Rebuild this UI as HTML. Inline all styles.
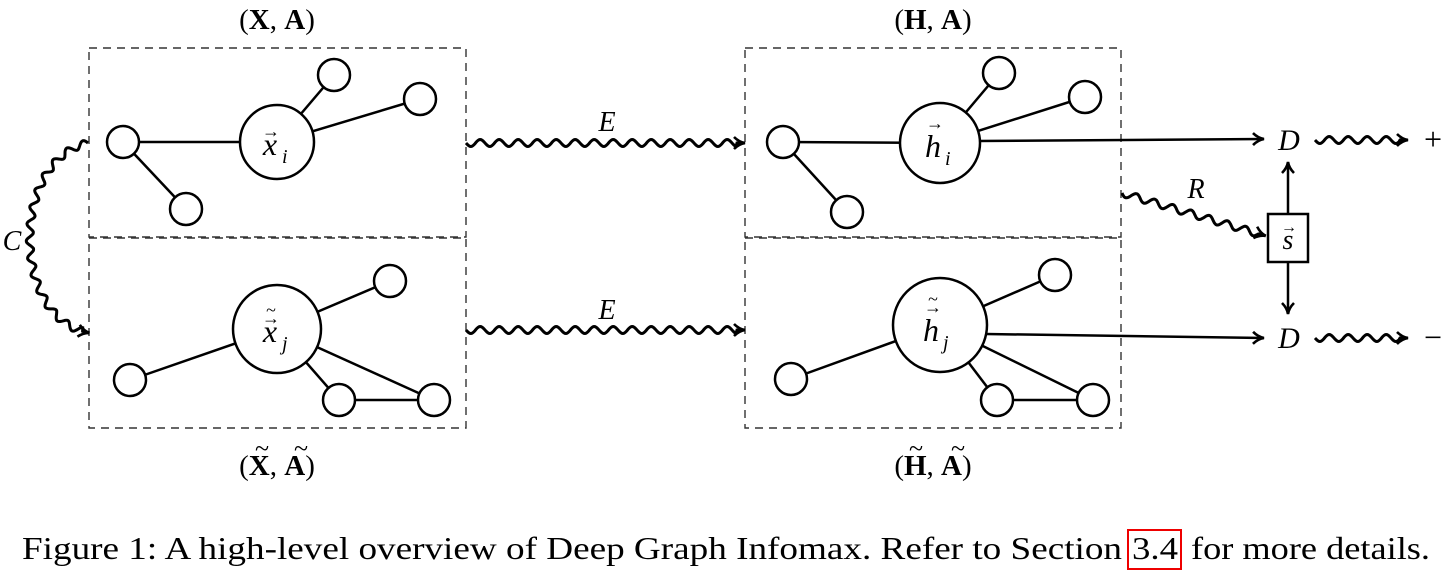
<!DOCTYPE html>
<html><head><meta charset="utf-8"><style>
html,body{margin:0;padding:0;background:#fff;width:1452px;height:579px;overflow:hidden}
svg{position:absolute;left:0;top:0}
text{font-family:"Liberation Serif",serif;fill:#000}
.m{font-style:italic}
</style></head><body>
<svg id="s" width="1452" height="579" viewBox="0 0 1452 579" xmlns="http://www.w3.org/2000/svg">
<defs>
<marker id="ar" viewBox="0 0 16 16" refX="13" refY="8" markerWidth="16" markerHeight="16" markerUnits="userSpaceOnUse" orient="auto">
<path d="M2,2 Q7,7 13,8 Q7,9 2,14" fill="none" stroke="#000" stroke-width="2.6"/>
</marker>
</defs>
<g fill="none" stroke="#333" stroke-width="1.4" stroke-dasharray="8,6">
<rect x="89" y="48" width="377" height="189"/>
<rect x="89" y="238" width="377" height="190"/>
<rect x="745" y="48" width="376" height="189"/>
<rect x="745" y="238" width="376" height="190"/>
</g>
<g stroke="#000" stroke-width="2.5" fill="none">
<line x1="123" y1="142" x2="277" y2="142"/><line x1="123" y1="142" x2="186" y2="209"/>
<line x1="277" y1="142" x2="334" y2="75"/><line x1="277" y1="142" x2="420" y2="99"/>
<line x1="277" y1="329" x2="130" y2="380"/><line x1="277" y1="329" x2="390" y2="281"/>
<line x1="277" y1="329" x2="339" y2="400"/><line x1="277" y1="329" x2="434" y2="400"/>
<line x1="339" y1="400" x2="434" y2="400"/>
<line x1="783" y1="142" x2="940" y2="143"/><line x1="783" y1="142" x2="847" y2="212"/>
<line x1="940" y1="143" x2="999" y2="73"/><line x1="940" y1="143" x2="1085" y2="97"/>
<line x1="940" y1="325" x2="791" y2="379"/><line x1="940" y1="325" x2="1055" y2="275"/>
<line x1="940" y1="325" x2="997" y2="400"/><line x1="940" y1="325" x2="1093" y2="400"/>
<line x1="997" y1="400" x2="1093" y2="400"/>
<line x1="978" y1="141" x2="1264" y2="139" marker-end="url(#ar)"/>
<line x1="986" y1="334" x2="1264" y2="338" marker-end="url(#ar)"/>
<line x1="1288" y1="214" x2="1288" y2="162" marker-end="url(#ar)"/>
<line x1="1288" y1="262" x2="1288" y2="314" marker-end="url(#ar)"/>
</g>
<g stroke="#000" stroke-width="2.5" fill="#fff">
<circle cx="277" cy="142" r="37"/><circle cx="123" cy="142" r="16"/><circle cx="186" cy="209" r="16"/>
<circle cx="334" cy="75" r="16"/><circle cx="420" cy="99" r="16"/>
<circle cx="277" cy="329" r="44"/><circle cx="130" cy="380" r="16"/><circle cx="390" cy="281" r="16"/>
<circle cx="339" cy="400" r="16"/><circle cx="434" cy="400" r="16"/>
<circle cx="940" cy="143" r="40"/><circle cx="783" cy="142" r="16"/><circle cx="847" cy="212" r="16"/>
<circle cx="999" cy="73" r="16"/><circle cx="1085" cy="97" r="16"/>
<circle cx="940" cy="325" r="47"/><circle cx="791" cy="379" r="16"/><circle cx="1055" cy="275" r="16"/>
<circle cx="997" cy="400" r="16"/><circle cx="1093" cy="400" r="16"/>
<rect x="1268" y="214" width="40" height="48"/>
</g>
<g id="w" stroke="#000" stroke-width="3" fill="none"></g>
<g font-size="29">
<text x="277" y="29" text-anchor="middle">(<tspan font-weight="bold">X</tspan>, <tspan font-weight="bold">A</tspan>)</text>
<text x="933" y="29" text-anchor="middle">(<tspan font-weight="bold">H</tspan>, <tspan font-weight="bold">A</tspan>)</text>
<text x="277" y="475" text-anchor="middle">(<tspan font-weight="bold">X</tspan>, <tspan font-weight="bold">A</tspan>)</text>
<text x="933" y="475" text-anchor="middle">(<tspan font-weight="bold">H</tspan>, <tspan font-weight="bold">A</tspan>)</text>
<text x="262" y="457" text-anchor="middle" font-size="26">~</text><text x="301" y="457" text-anchor="middle" font-size="26">~</text>
<text x="916" y="457" text-anchor="middle" font-size="26">~</text><text x="958" y="457" text-anchor="middle" font-size="26">~</text>
<text class="m" x="270" y="155" text-anchor="middle" font-size="32">x</text><text class="m" x="282" y="163" font-size="20">i</text>
<text x="271" y="137" text-anchor="middle" font-size="18">→</text>
<text class="m" x="270" y="342" text-anchor="middle" font-size="32">x</text><text class="m" x="282" y="350" font-size="20">j</text>
<text x="271" y="324" text-anchor="middle" font-size="18">→</text><text x="271" y="316" text-anchor="middle" font-size="18">~</text>
<text class="m" x="933" y="157" text-anchor="middle" font-size="32">h</text><text class="m" x="945" y="165" font-size="20">i</text>
<text x="935" y="129" text-anchor="middle" font-size="18">→</text>
<text class="m" x="931" y="341" text-anchor="middle" font-size="32">h</text><text class="m" x="943" y="349" font-size="20">j</text>
<text x="933" y="313" text-anchor="middle" font-size="18">→</text><text x="933" y="305" text-anchor="middle" font-size="18">~</text>
<text class="m" x="1288" y="249" text-anchor="middle" font-size="28">s</text>
<text x="1289" y="232" text-anchor="middle" font-size="16">→</text>
<text class="m" x="1289" y="150" text-anchor="middle" font-size="30">D</text>
<text class="m" x="1289" y="348" text-anchor="middle" font-size="30">D</text>
<text x="1433" y="150" text-anchor="middle" font-size="32">+</text>
<text x="1433" y="348" text-anchor="middle" font-size="32">−</text>
<text class="m" x="607" y="131" text-anchor="middle" font-size="28">E</text>
<text class="m" x="607" y="319" text-anchor="middle" font-size="28">E</text>
<text class="m" x="1196" y="198" text-anchor="middle" font-size="28">R</text>
<text class="m" x="12" y="250" text-anchor="middle" font-size="28">C</text>
</g>
<g font-size="32">
<text x="22" y="559" textLength="1100" lengthAdjust="spacingAndGlyphs">Figure 1: A high-level overview of Deep Graph Infomax. Refer to Section</text>
<text x="1132" y="559" textLength="46" lengthAdjust="spacingAndGlyphs">3.4</text>
<text x="1191" y="559" textLength="239" lengthAdjust="spacingAndGlyphs">for more details.</text>
</g>
<rect x="1128" y="530" width="53" height="39" fill="none" stroke="#e00" stroke-width="2"/>
</svg>
<script>
function snake(pts,amp,wl){
 var L=[0];for(var i=1;i<pts.length;i++){L.push(L[i-1]+Math.hypot(pts[i][0]-pts[i-1][0],pts[i][1]-pts[i-1][1]));}
 var T=L[L.length-1],d="",stop=T-8;
 function at(s){for(var i=1;i<L.length;i++){if(L[i]>=s){var t=(s-L[i-1])/(L[i]-L[i-1]||1);var a=pts[i-1],b=pts[i];var dx=b[0]-a[0],dy=b[1]-a[1],n=Math.hypot(dx,dy)||1;return [a[0]+dx*t,a[1]+dy*t,-dy/n,dx/n];}}var a=pts[pts.length-2],b=pts[pts.length-1];var dx=b[0]-a[0],dy=b[1]-a[1],n=Math.hypot(dx,dy);return [b[0],b[1],-dy/n,dx/n];}
 for(var s=0;s<=T;s+=1){var p=at(s);var o=s<stop?amp*Math.sin(2*Math.PI*s/wl):0;d+=(s==0?"M":"L")+(p[0]+p[2]*o).toFixed(1)+","+(p[1]+p[3]*o).toFixed(1);}
 var e=document.createElementNS("http://www.w3.org/2000/svg","path");e.setAttribute("d",d);e.setAttribute("marker-end","url(#ar)");document.getElementById("w").appendChild(e);
}
function line(a,b){var r=[];for(var i=0;i<=50;i++){var t=i/50;r.push([a[0]+(b[0]-a[0])*t,a[1]+(b[1]-a[1])*t]);}return r;}
function cub(p0,p1,p2,p3){var r=[];for(var i=0;i<=200;i++){var t=i/200,u=1-t;r.push([u*u*u*p0[0]+3*u*u*t*p1[0]+3*u*t*t*p2[0]+t*t*t*p3[0],u*u*u*p0[1]+3*u*u*t*p1[1]+3*u*t*t*p2[1]+t*t*t*p3[1]]);}return r;}
snake(line([466,143],[745,143]),3.5,19);
snake(line([466,330],[745,330]),3.5,19);
snake(line([1122,193],[1266,236]),3.5,19);
snake(line([1315,140],[1408,140]),3.5,19);
snake(line([1315,338],[1408,338]),3.5,19);
snake(cub([88,143],[10,160],[10,320],[90,333]),3.5,17);
</script>
</body></html>
